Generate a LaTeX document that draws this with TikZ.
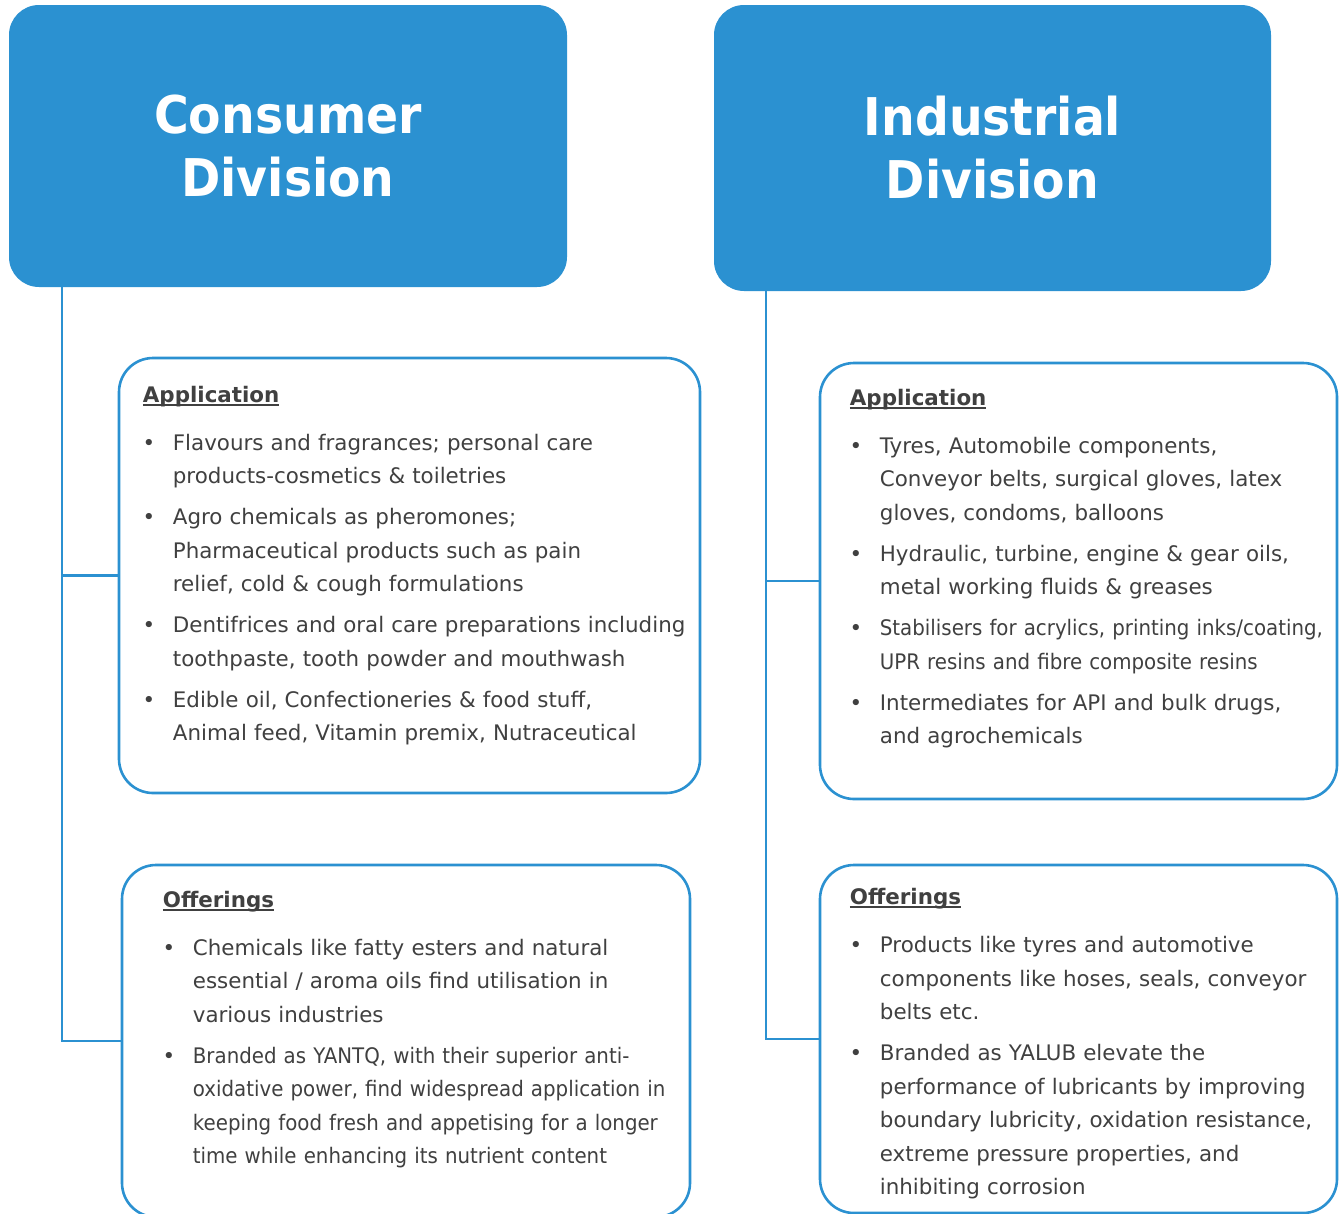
\documentclass[tikz,border=0pt]{standalone}
\usepackage{fontspec}
\setmainfont{DejaVu Sans}
\newfontfamily\narrowfont[FakeStretch=0.925]{DejaVu Sans}
\newfontfamily\headfont[FakeStretch=0.91]{DejaVu Sans}
\usepackage{xcolor}
\definecolor{divblue}{RGB}{43,145,209}
\definecolor{txtgrey}{RGB}{64,64,64}
\usepackage{tikz}
\tikzset{
	head/.style = {rectangle,rounded corners=30pt,fill=divblue,
		text=white,align=center,inner sep=0pt,
		font=\headfont\bfseries\fontsize{52}{63}\selectfont},
	card/.style = {rectangle,rounded corners=34pt,draw=divblue,
		line width=2.6pt,fill=white},
	list/.style = {anchor=north west,inner sep=0pt,text width=600pt,
		align=left,text=txtgrey,
		font=\fontsize{21.4}{33.5}\selectfont},
	link/.style = {draw=divblue,line width=2.4pt},
}
% underlined bold title, then bullets whose lines all start at one indent
\newcommand\heading[1]{\setbox0\hbox{\bfseries #1}%
	\noindent\rlap{\rule[-3.5pt]{\wd0}{1.8pt}}\box0\par\vspace{7pt}}
\newcommand\bitem[1]{\par\vspace{7.5pt}{\leftskip=30pt
	\noindent\llap{\makebox[48pt]{\textbullet}}#1\par}}

\begin{document}
\begin{tikzpicture}[x=1pt,y=-1pt]
	\useasboundingbox (0,0) rectangle (1341,1213);
	\clip (0,0) rectangle (1341,1213);
	
	%% Divisions
	\node (cons) [head,minimum width=558pt,minimum height=282pt] at (288,146)
	{Consumer\\Division};
	\node (ind)  [head,minimum width=557pt,minimum height=286pt] at (992.5,148)
	{Industrial\\Division};
	
	%% Cards
	\node (consApp) [card,minimum width=581pt,minimum height=435pt] at (409.5,575.5) {};
	\node (consOff) [card,minimum width=568pt,minimum height=352pt] at (406,1041) {};
	\node (indApp)  [card,minimum width=517pt,minimum height=436pt] at (1078.5,581) {};
	\node (indOff)  [card,minimum width=517pt,minimum height=348pt] at (1078.5,1039) {};
	
	%% Card texts
	\node (consAppTxt) [list] at ([shift={(25pt,-29pt)}]consApp.north west) {%
		\heading{Application}
		\bitem{Flavours and fragrances; personal care\\products-cosmetics \& toiletries}
		\bitem{Agro chemicals as pheromones;\\Pharmaceutical products such as pain\\relief, cold \& cough formulations}
		\bitem{Dentifrices and oral care preparations including\\toothpaste, tooth powder and mouthwash}
		\bitem{Edible oil, Confectioneries \& food stuff,\\Animal feed, Vitamin premix, Nutraceutical}};
	\node (consOffTxt) [list] at ([shift={(42pt,-27pt)}]consOff.north west) {%
		\heading{Offerings}
		\bitem{Chemicals like fatty esters and natural\\essential / aroma oils find utilisation in\\various industries}
		\bitem{\narrowfont Branded as YANTQ, with their superior anti-\\oxidative power, find widespread application in\\keeping food fresh and appetising for a longer\\time while enhancing its nutrient content}};
	\node (indAppTxt) [list] at ([shift={(31pt,-27pt)}]indApp.north west) {%
		\heading{Application}
		\bitem{Tyres, Automobile components,\\Conveyor belts, surgical gloves, latex\\gloves, condoms, balloons}
		\bitem{Hydraulic, turbine, engine \& gear oils,\\metal working fluids \& greases}
		\bitem{\narrowfont Stabilisers for acrylics, printing inks/coating,\\UPR resins and fibre composite resins}
		\bitem{Intermediates for API and bulk drugs,\\and agrochemicals}};
	\node (indOffTxt) [list] at ([shift={(31pt,-24.5pt)}]indOff.north west) {%
		\heading{Offerings}
		\bitem{Products like tyres and automotive\\components like hoses, seals, conveyor\\belts etc.}
		\bitem{Branded as YALUB elevate the\\performance of lubricants by improving\\boundary lubricity, oxidation resistance,\\extreme pressure properties, and\\inhibiting corrosion}};
	
	%% Links
	\draw[link] ([xshift=53pt]cons.south west) |- (consApp.west);
	\draw[link] ([xshift=53pt]cons.south west) |- (consOff.west);
	\draw[link] ([xshift=52pt]ind.south west)  |- (indApp.west);
	\draw[link] ([xshift=52pt]ind.south west)  |- (indOff.west);
\end{tikzpicture}
\end{document}
